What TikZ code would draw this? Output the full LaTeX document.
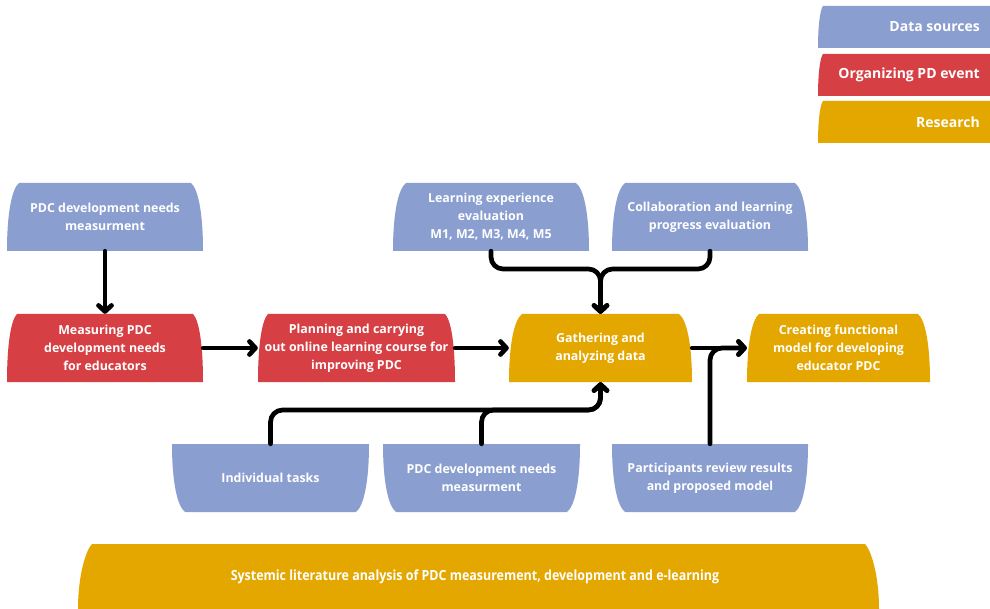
\documentclass[tikz,border=0pt]{standalone}
\usepackage{fontspec}
\setmainfont{Open Sans}
\newfontfamily\condfont[FakeStretch=0.89]{Open Sans}
\usetikzlibrary{arrows.meta,calc}
\definecolor{cblue}{RGB}{138,158,208}
\definecolor{cred}{RGB}{214,64,68}
\definecolor{cgold}{RGB}{227,167,0}
\tikzset{
  txt/.style={text=white,font=\bfseries\fontsize{12.4}{18}\selectfont,align=center,inner sep=0pt},
  ln/.style={line width=4.7pt,line cap=round,line join=round,rounded corners=12pt},
  arr/.style={ln,-{Straight Barb[length=6pt,width=13pt,line cap=round,line join=round]}}
}
% box narrow at the top, wide at the bottom
\newcommand{\topbox}[8]{%
  \fill[#7] (#3,#6) .. controls (#3,{#4+30}) and ({#3+0.4*#8},{#4+6}) .. ({#3+#8},#4)
     -- ({#5-#8},#4) .. controls ({#5-0.4*#8},{#4+6}) and (#5,{#4+30}) .. (#5,#6) -- cycle;
  \pgfmathsetmacro\bw{#5-#3}\pgfmathsetmacro\bh{#6-#4}%
  \node[txt,minimum width=\bw pt,minimum height=\bh pt] (#1) at ({(#3+#5)/2},{(#4+#6)/2}) {#2};}
% box wide at the top, narrow at the bottom
\newcommand{\botbox}[8]{%
  \fill[#7] (#3,#4) .. controls (#3,{#6-30}) and ({#3+0.4*#8},{#6-6}) .. ({#3+#8},#6)
     -- ({#5-#8},#6) .. controls ({#5-0.4*#8},{#6-6}) and (#5,{#6-30}) .. (#5,#4) -- cycle;
  \pgfmathsetmacro\bw{#5-#3}\pgfmathsetmacro\bh{#6-#4}%
  \node[txt,minimum width=\bw pt,minimum height=\bh pt] (#1) at ({(#3+#5)/2},{(#4+#6)/2}) {#2};}
% legend box: curved left side, straight right side
\newcommand{\legbox}[6]{%
  \fill[#5] (818,#4) .. controls (818,{#3+20}) and (820,{#3+4}) .. (823,#3) -- (990,#3) -- (990,#4) -- cycle;
  \node[txt,anchor=east,font=\bfseries\fontsize{14}{16}\selectfont] (#1) at (980,{(#3+#4)/2}) {#2};}
\begin{document}
\begin{tikzpicture}[x=1pt,y=-1pt]
\useasboundingbox[fill=white] (0,0) rectangle (990,609);
% legend
\legbox{lgA}{Data sources}{6}{48}{cblue}{}
\legbox{lgB}{Organizing PD event}{54}{96}{cred}{}
\legbox{lgC}{Research}{101}{143}{cgold}{}
% top row sources
\topbox{src}{PDC development needs\\measurment}{7}{183}{203}{251}{cblue}{12}
\topbox{learn}{Learning experience\\evaluation\\M1, M2, M3, M4, M5}{393}{183}{589}{251}{cblue}{13}
\topbox{collab}{Collaboration and learning\\progress evaluation}{612}{183}{808}{251}{cblue}{13}
% middle row
\topbox{meas}{Measuring PDC\\development needs\\for educators}{7}{314}{203}{382}{cred}{10}
\topbox{plan}{Planning and carrying\\out online learning course for\\improving PDC}{258}{314}{455}{382}{cred}{10}
\topbox{gath}{Gathering and\\analyzing data}{509}{314}{692}{382}{cgold}{13}
\topbox{creat}{Creating functional\\model for developing\\educator PDC}{747}{314}{930}{382}{cgold}{12}
% bottom row sources
\botbox{indiv}{Individual tasks}{172}{444}{369}{512}{cblue}{13}
\botbox{pdcb}{PDC development needs\\measurment}{383}{444}{580}{512}{cblue}{13}
\botbox{part}{Participants review results\\and proposed model}{612}{444}{808}{512}{cblue}{13}
% literature box
\fill[cgold] (78,609) .. controls (78,575) and (86,550) .. (92,544) -- (865,544)
   .. controls (871,550) and (879,575) .. (879,609) -- cycle;
\node[text=white,inner sep=0pt,font=\condfont\bfseries\fontsize{14}{16}\selectfont] (lit) at (475,577)
  {Systemic literature analysis of PDC measurement, development and e-learning};
% connectors
\coordinate (jt) at (gath.north |- 0,269);
\coordinate (jb) at (gath.south |- 0,410);
\draw[arr] (src) -- (meas);
\draw[arr] (meas) -- (plan);
\draw[arr] (plan) -- (gath);
\draw[arr] (gath) -- (creat);
\draw[arr] (learn.south) |- (jt) -- (gath.north);
\draw[arr] (collab.south) |- (jt) -- (gath.north);
\draw[arr] (indiv.north) |- (jb) -- (gath.south);
\draw[arr] (pdcb.north) |- (jb) -- (gath.south);
\draw[arr] (part.north) |- (creat.west);
\end{tikzpicture}
\end{document}
